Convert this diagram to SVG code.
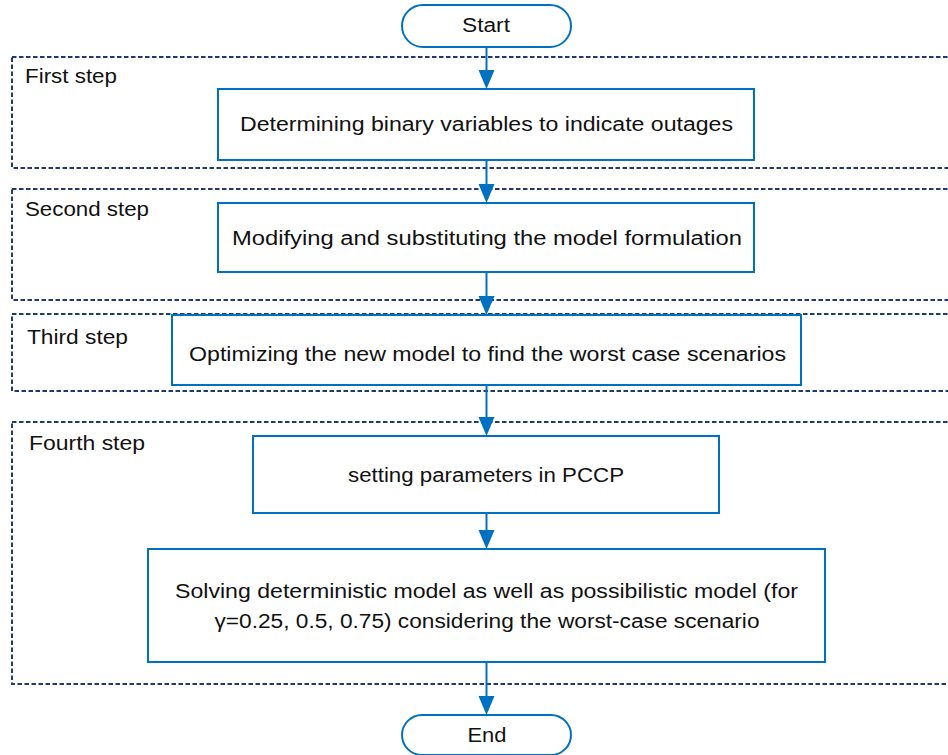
<svg xmlns="http://www.w3.org/2000/svg" width="948" height="755" viewBox="0 0 948 755">
<style>
.grp{fill:none;stroke:#1f3a6e;stroke-width:2;stroke-dasharray:4.5,2.5}
.box{fill:#fff;stroke:#0070c0;stroke-width:2}
.ln{fill:none;stroke:#0070c0;stroke-width:2}
.ah{fill:#0070c0}
.t{font-family:"Liberation Sans",Arial,sans-serif;font-size:20px;fill:#111}
.c{text-anchor:middle}
</style>
<g id="groups">
<g id="step1"><rect class="grp" x="12" y="57" width="945" height="111"/><text class="t" x="25" y="83" textLength="92" lengthAdjust="spacingAndGlyphs">First step</text></g>
<g id="step2"><rect class="grp" x="12" y="189" width="945" height="111"/><text class="t" x="25" y="216" textLength="124" lengthAdjust="spacingAndGlyphs">Second step</text></g>
<g id="step3"><rect class="grp" x="12" y="314" width="945" height="77"/><text class="t" x="27" y="344" textLength="101" lengthAdjust="spacingAndGlyphs">Third step</text></g>
<g id="step4"><rect class="grp" x="12" y="422" width="945" height="262"/><text class="t" x="29" y="450" textLength="116" lengthAdjust="spacingAndGlyphs">Fourth step</text></g>
</g>
<g id="connectors">
<line class="ln" x1="486.5" y1="47" x2="486.5" y2="72"/><polygon class="ah" points="478.5,70 494.5,70 486.5,89"/>
<line class="ln" x1="486.5" y1="160" x2="486.5" y2="186"/><polygon class="ah" points="478.5,184 494.5,184 486.5,203"/>
<line class="ln" x1="486.5" y1="272" x2="486.5" y2="298"/><polygon class="ah" points="478.5,296 494.5,296 486.5,315"/>
<line class="ln" x1="486.5" y1="385" x2="486.5" y2="419"/><polygon class="ah" points="478.5,417 494.5,417 486.5,436"/>
<line class="ln" x1="486.5" y1="513" x2="486.5" y2="532"/><polygon class="ah" points="478.5,530 494.5,530 486.5,549"/>
<line class="ln" x1="486.5" y1="662" x2="486.5" y2="698"/><polygon class="ah" points="478.5,696 494.5,696 486.5,715"/>
</g>
<g id="start"><rect class="box" x="402" y="5" width="169" height="42" rx="21"/><text class="t c" x="486" y="32" textLength="48" lengthAdjust="spacingAndGlyphs">Start</text></g>
<g id="n1"><rect class="box" x="218" y="89" width="536" height="71"/><text class="t c" x="486.5" y="131" textLength="493" lengthAdjust="spacingAndGlyphs">Determining binary variables to indicate outages</text></g>
<g id="n2"><rect class="box" x="218" y="203" width="536" height="69"/><text class="t c" x="487" y="245" textLength="510" lengthAdjust="spacingAndGlyphs">Modifying and substituting the model formulation</text></g>
<g id="n3"><rect class="box" x="172" y="315" width="629" height="70"/><text class="t c" x="487.5" y="361" textLength="597" lengthAdjust="spacingAndGlyphs">Optimizing the new model to find the worst case scenarios</text></g>
<g id="n4"><rect class="box" x="253" y="436" width="466" height="77"/><text class="t c" x="486" y="482" textLength="276" lengthAdjust="spacingAndGlyphs">setting parameters in PCCP</text></g>
<g id="n5"><rect class="box" x="148" y="549" width="677" height="113"/><text class="t c" x="486.5" y="598" textLength="623" lengthAdjust="spacingAndGlyphs">Solving deterministic model as well as possibilistic model (for</text><text class="t c" x="487" y="628" textLength="545" lengthAdjust="spacingAndGlyphs">γ=0.25, 0.5, 0.75) considering the worst-case scenario</text></g>
<g id="end"><rect class="box" x="402" y="715" width="169" height="40" rx="20"/><text class="t c" x="487" y="742" textLength="39" lengthAdjust="spacingAndGlyphs">End</text></g>
</svg>
